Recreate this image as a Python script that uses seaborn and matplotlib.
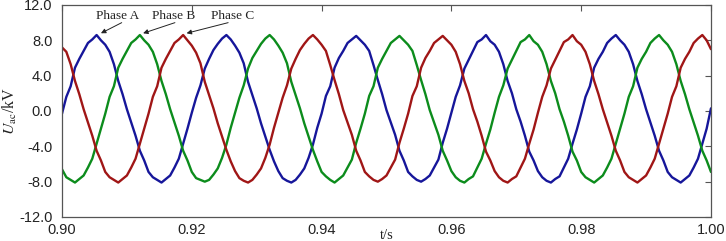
import numpy as np
import pandas as pd
import matplotlib
matplotlib.use('Agg')
import matplotlib.pyplot as plt
import seaborn as sns

# three-phase ac voltage (kV), one sample every 0.02/30 s
phase_a = [-0.3, 1.6, 2.8, 4.9, 5.9, 6.8, 7.7, 8.1, 8.6, 8.0, 7.5, 6.7, 5.3, 3.4, 1.9, 0.2, -1.3, -2.8, -4.5, -5.6,
           -6.9, -7.5, -7.8, -8.1, -7.7, -7.3, -6.4, -5.4, -3.7, -2.0,
           -0.2, 1.5, 2.9, 4.8, 5.9, 6.9, 7.6, 8.2, 8.6, 8.1, 7.4, 6.6, 5.4, 3.3, 1.8, 0.3, -1.4, -2.9, -4.4, -5.7,
           -6.8, -7.6, -7.9, -8.1, -7.8, -7.2, -6.5, -5.3, -3.8, -1.9,
           -0.3, 1.7, 2.8, 4.9, 6.0, 6.8, 7.7, 8.1, 8.5, 8.0, 7.5, 6.8, 5.2, 3.5, 1.9, 0.1, -1.3, -2.7, -4.5, -5.6,
           -6.9, -7.4, -7.8, -8.0, -7.7, -7.3, -6.4, -5.5, -3.6, -2.0,
           -0.2, 1.6, 2.9, 4.8, 5.8, 6.8, 7.8, 8.1, 8.6, 7.9, 7.5, 6.7, 5.3, 3.4, 2.0, 0.2, -1.2, -2.8, -4.6, -5.6,
           -6.8, -7.5, -7.9, -8.1, -7.7, -7.4, -6.4, -5.4, -3.7, -2.1,
           -0.3, 1.6, 2.8, 4.9, 5.9, 6.7, 7.7, 8.2, 8.6, 8.0, 7.5, 6.7, 5.3, 3.4, 1.9, 0.2, -1.3, -2.8, -4.5, -5.6,
           -6.9, -7.5, -7.8, -8.1, -7.7, -7.3, -6.4, -5.4, -3.7, -2.0,
           0.3]
phase_b = [-6.6, -7.5, -7.8, -8.1, -7.7, -7.3, -6.4, -5.4, -3.7, -2.0, -0.3, 1.6, 2.8, 4.9, 5.9, 6.8, 7.7, 8.1, 8.6, 8.0,
           7.5, 6.7, 5.3, 3.4, 1.9, 0.2, -1.3, -2.8, -4.5, -5.6,
           -6.9, -7.6, -7.8, -8.0, -7.8, -7.2, -6.5, -5.3, -3.8, -1.9, -0.2, 1.5, 2.9, 4.8, 6.0, 6.8, 7.6, 8.2, 8.6, 8.1,
           7.4, 6.6, 5.4, 3.3, 1.8, 0.3, -1.4, -2.9, -4.4, -5.7,
           -6.9, -7.4, -7.8, -8.1, -7.7, -7.3, -6.4, -5.5, -3.6, -2.0, -0.3, 1.7, 2.8, 4.9, 5.9, 6.8, 7.7, 8.1, 8.5, 8.0,
           7.5, 6.8, 5.2, 3.5, 1.9, 0.1, -1.3, -2.7, -4.5, -5.6,
           -6.8, -7.5, -7.9, -8.1, -7.7, -7.4, -6.4, -5.4, -3.7, -2.1, -0.2, 1.6, 2.9, 4.8, 5.8, 6.8, 7.8, 8.1, 8.6, 7.9,
           7.5, 6.7, 5.3, 3.4, 2.0, 0.2, -1.2, -2.8, -4.6, -5.6,
           -6.9, -7.5, -7.8, -8.1, -7.7, -7.3, -6.4, -5.4, -3.7, -2.0, -0.3, 1.6, 2.8, 4.9, 5.9, 6.7, 7.7, 8.2, 8.6, 8.0,
           7.5, 6.7, 5.3, 3.4, 1.9, 0.2, -1.3, -2.8, -4.5, -5.6,
           -6.9]
phase_c = [7.2, 6.7, 5.3, 3.4, 1.9, 0.2, -1.3, -2.8, -4.5, -5.6, -6.9, -7.5, -7.8, -8.1, -7.7, -7.3, -6.4, -5.4, -3.7, -2.0,
           -0.3, 1.6, 2.8, 4.9, 5.9, 6.8, 7.7, 8.1, 8.6, 8.0,
           7.4, 6.6, 5.4, 3.3, 1.8, 0.3, -1.4, -2.9, -4.4, -5.7, -6.8, -7.6, -7.9, -8.1, -7.8, -7.2, -6.5, -5.3, -3.8, -1.9,
           -0.2, 1.5, 2.9, 4.8, 5.9, 6.9, 7.6, 8.2, 8.6, 8.1,
           7.5, 6.8, 5.2, 3.5, 1.9, 0.1, -1.3, -2.7, -4.5, -5.6, -6.9, -7.4, -7.8, -8.0, -7.7, -7.3, -6.4, -5.5, -3.6, -2.0,
           -0.3, 1.7, 2.8, 4.9, 6.0, 6.8, 7.7, 8.1, 8.5, 8.0,
           7.5, 6.7, 5.3, 3.4, 2.0, 0.2, -1.2, -2.8, -4.6, -5.6, -6.8, -7.5, -7.9, -8.1, -7.7, -7.4, -6.4, -5.4, -3.7, -2.1,
           -0.2, 1.6, 2.9, 4.8, 5.8, 6.8, 7.8, 8.1, 8.6, 7.9,
           7.5, 6.7, 5.3, 3.4, 1.9, 0.2, -1.3, -2.8, -4.5, -5.6, -6.9, -7.5, -7.8, -8.1, -7.7, -7.3, -6.4, -5.4, -3.7, -2.0,
           -0.3, 1.6, 2.8, 4.9, 5.9, 6.7, 7.7, 8.2, 8.6, 8.0,
           7.0]
phases = ['Phase A', 'Phase B', 'Phase C']
colors = ['#16169a', '#0c8c1c', '#a01616']
x_ticks = [0.90, 0.92, 0.94, 0.96, 0.98, 1.00]
y_ticks = [-12.0, -8.0, -4.0, 0.0, 4.0, 8.0, 12.0]

frames = []
for name, vals in zip(phases, [phase_a, phase_b, phase_c]):
    t = np.linspace(0.9, 1.0, len(vals))
    frames.append(pd.DataFrame({'t': t, 'U': vals, 'phase': name}))
df = pd.concat(frames, ignore_index=True)

sns.set_style('white')
plt.rcParams['font.family'] = ['Liberation Sans', 'DejaVu Sans']
plt.rcParams['mathtext.fontset'] = 'stix'

fig = plt.figure(figsize=(7.26, 2.41), dpi=100)
ax = fig.add_axes([0.0854, 0.0996, 0.8939, 0.8797])
sns.lineplot(data=df, x='t', y='U', hue='phase', palette=colors, estimator=None,
             linewidth=1.7, legend=False, ax=ax)

ax.set_xlim(0.9, 1.0)
ax.set_ylim(-12, 12)
ax.set_xticks(x_ticks)
ax.set_xticklabels(['%.2f' % v for v in x_ticks])
ax.set_yticks(y_ticks)
ax.set_yticklabels(['%.1f' % v for v in y_ticks])
ax.tick_params(axis='both', direction='in', length=4, width=0.8, color='#555555',
               labelsize=10.5, labelcolor='#222222', top=True, right=True)
ax.tick_params(axis='x', pad=4)
ax.tick_params(axis='y', pad=7)
for s in ax.spines.values():
    s.set_color('#555555')
    s.set_linewidth(0.9)

ax.set_xlabel('t/s', family='Liberation Serif', fontsize=10.5, color='#222222')
ax.xaxis.set_label_coords(0.5, -0.058)
ax.set_ylabel(r'$U_{\rm ac}$/kV', family='Liberation Serif', fontsize=11.5, color='#222222')
ax.yaxis.set_label_coords(-0.067, 0.5)

# labels with arrows to the peaks
label_pos = [(0.9085, 10.75), (0.9172, 10.75), (0.9263, 10.75)]
arrow_tail = [(0.9092, 10.0), (0.9174, 10.0), (0.9256, 10.0)]
arrow_head = [(0.9060, 8.8), (0.9125, 8.8), (0.9192, 8.8)]
for name, p, tail, head in zip(phases, label_pos, arrow_tail, arrow_head):
    ax.text(p[0], p[1], name, family='Liberation Serif', fontsize=9.5, ha='center', va='center', color='#222222')
    ax.annotate('', xy=head, xytext=tail,
                arrowprops=dict(arrowstyle='-|>', color='#222222', lw=0.7, mutation_scale=7,
                                shrinkA=0, shrinkB=0))

plt.savefig('out.png', dpi=100)
